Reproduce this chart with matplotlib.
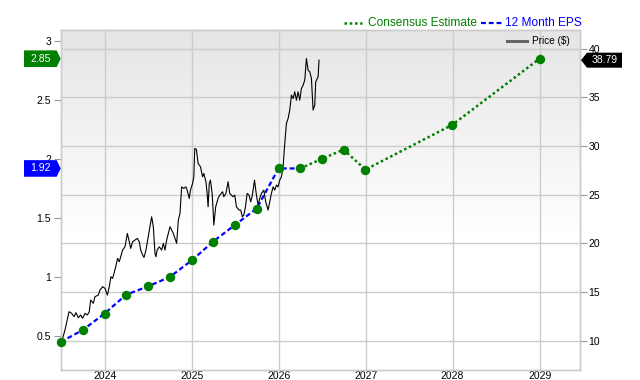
import numpy as np
import pandas as pd
import matplotlib
matplotlib.use("Agg")
import matplotlib.pyplot as plt
import matplotlib.dates as mdates
import matplotlib.transforms as mtransforms
from matplotlib.patches import Polygon
from matplotlib.lines import Line2D

plt.rcParams['font.family'] = ['Liberation Sans', 'DejaVu Sans']

# ---------------- data ----------------
eps_dates = ["2023-06-30", "2023-09-30", "2023-12-31", "2024-03-31", "2024-06-30",
             "2024-09-30", "2024-12-31", "2025-03-31", "2025-06-30", "2025-09-30",
             "2025-12-31", "2026-03-31"]
eps_values = [0.45, 0.55, 0.69, 0.85, 0.92, 1.00, 1.14, 1.30, 1.44, 1.58, 1.92, 1.92]

cons_dates = ["2026-03-31", "2026-06-30", "2026-09-30", "2026-12-31", "2027-12-31", "2028-12-31"]
cons_values = [1.92, 2.00, 2.08, 1.91, 2.29, 2.85]

price_start = "2023-06-30"
price_days = [4, 18, 35, 46, 56, 64, 74, 84, 92, 102, 112, 120, 126, 137, 144, 158, 165, 176,
              186, 196, 204, 211, 218, 224, 231, 239, 246, 252, 260, 270, 280, 288, 294, 302,
              312, 322, 330, 336, 344, 350, 358, 364, 372, 382, 389, 396, 400, 405, 414, 424,
              431, 438, 445, 452, 459, 466, 473, 480, 487, 494, 501, 508, 517, 526, 531, 540,
              545, 554, 559, 563, 570, 577, 587, 596, 601, 610, 615, 619, 624, 629, 636, 640,
              643, 651, 661, 668, 680, 685, 694, 703, 710, 717, 724, 731, 738, 749, 756, 763,
              769, 776, 783, 791, 798, 805, 814, 822, 829, 836, 843, 853, 861, 871, 878, 885,
              892, 899, 906, 913, 920, 927, 934, 941, 948, 955, 962, 969, 976, 983, 990, 997,
              1004, 1011, 1018, 1025, 1032, 1039, 1046, 1053, 1060, 1067, 1071, 1081, 1085]
price_values = [9.90, 11.10, 12.98, 12.81, 12.47, 12.88, 12.36, 12.64, 12.30, 12.81, 12.64,
                12.98, 14.18, 13.84, 14.52, 14.69, 15.21, 15.55, 15.38, 14.69, 15.55, 16.57,
                16.40, 16.92, 17.60, 18.46, 18.11, 18.63, 19.31, 19.65, 21.02, 20.17, 19.48,
                20.17, 20.34, 20.51, 20.17, 19.31, 18.80, 18.56, 19.31, 20.17, 21.37, 22.73,
                21.71, 18.97, 18.63, 19.31, 19.65, 19.31, 20.00, 19.31, 20.34, 21.02, 21.71,
                21.37, 21.02, 20.51, 20.00, 22.39, 23.08, 25.81, 25.64, 25.81, 25.47, 24.62,
                25.47, 26.16, 26.84, 29.75, 29.65, 28.21, 27.87, 26.84, 27.18, 26.33, 25.13,
                23.76, 26.16, 26.50, 25.13, 23.42, 21.88, 23.76, 24.62, 24.96, 25.30, 24.79,
                25.13, 26.33, 25.13, 24.96, 24.79, 24.96, 23.76, 23.42, 23.42, 22.73, 22.91,
                23.76, 25.13, 24.96, 24.27, 24.96, 26.50, 24.96, 23.93, 24.62, 25.13, 25.47,
                24.27, 23.42, 24.27, 25.13, 25.81, 25.47, 25.99, 25.81, 26.50, 26.84, 27.87,
                30.26, 32.32, 32.83, 33.69, 35.23, 34.88, 35.57, 34.71, 35.57, 34.71, 35.91,
                36.25, 36.77, 38.99, 37.79, 37.62, 36.94, 33.69, 34.20, 36.59, 37.11, 38.82]

year_ticks = ["2024", "2025", "2026", "2027", "2028", "2029"]
left_ticks = [0.5, 1, 1.5, 2, 2.5, 3]
left_tick_labels = ["0.5", "1", "1.5", "2", "2.5", "3"]
right_ticks = [10, 15, 20, 25, 30, 35, 40]

last_eps_label = "1.92"
last_cons_label = "2.85"
last_price_label = "38.79"

# ---------------- figure ----------------
GREEN = "#008000"
BLUE = "#0000ff"
GRID = "#cccccc"

fig = plt.figure(figsize=(6.4, 3.8), dpi=100)
ax2 = fig.add_axes([60.7 / 640, 10 / 380, 519.3 / 640, 340 / 380])   # price axis (right)
ax = ax2.twinx()                                                       # eps axis (left)
ax.yaxis.tick_left()
ax2.yaxis.tick_right()

x_left = pd.Timestamp("2023-06-30")
x_right = pd.Timestamp("2029-06-19")
L_LIM = (0.2119, 3.0932)
R_LIM = (6.99, 41.92)

# background gradient (on bottom axes)
grad = np.concatenate([np.linspace(0.895, 1.0, 62), np.ones(38)])[:, None]
ax2.imshow(grad, cmap="gray", vmin=0, vmax=1, aspect="auto",
           extent=[mdates.date2num(x_left), mdates.date2num(x_right), R_LIM[0], R_LIM[1]],
           origin="upper", zorder=0, interpolation="bilinear")

ax2.set_xlim(x_left, x_right)
ax.set_xlim(x_left, x_right)
ax.set_ylim(*L_LIM)
ax2.set_ylim(*R_LIM)

# grid: verticals on years, horizontals on right-axis ticks
for y in year_ticks:
    ax2.axvline(pd.Timestamp(y + "-01-01"), color=GRID, lw=1, zorder=1)
for v in right_ticks:
    ax2.axhline(v, color=GRID, lw=1, zorder=1)

ax2.set_xticks([pd.Timestamp(y + "-01-01") for y in year_ticks])
ax2.set_xticklabels(year_ticks)
ax.set_yticks(left_ticks)
ax.set_yticklabels(left_tick_labels)
ax2.set_yticks(right_ticks)
ax2.set_yticklabels([str(v) for v in right_ticks])

ax2.tick_params(axis="x", length=0, pad=0.8, labelsize=7.5, colors="black")
ax.tick_params(axis="y", length=5, width=0.8, color="#999999", pad=2, labelsize=7.5)
ax2.tick_params(axis="y", length=5, width=0.8, color="#999999", pad=1, labelsize=7.5)

for a in (ax, ax2):
    for s in a.spines.values():
        s.set_color(GRID)
        s.set_linewidth(1)

ax.patch.set_visible(False)

# price
pdates = pd.Timestamp(price_start) + pd.to_timedelta(price_days, unit="D")
ax2.plot(pdates, price_values, color="black", lw=0.8, zorder=3)

# eps and consensus
ed = pd.to_datetime(eps_dates)
cd = pd.to_datetime(cons_dates)
ax.plot(ed, eps_values, color=BLUE, lw=1.6, linestyle=(0, (2.2, 1.3)), zorder=4, clip_on=False)
ax.plot(cd, cons_values, color=GREEN, lw=1.8, linestyle=(0, (1, 1.1)), zorder=4)
all_d = list(ed) + list(cd[1:])
all_v = list(eps_values) + list(cons_values[1:])
ax.scatter(all_d, all_v, s=46, color=GREEN, zorder=5, clip_on=False, linewidths=0)

# tags
trL = mtransforms.blended_transform_factory(ax.transAxes, ax.transData)
w = 1 / 519.3  # one pixel in axes fraction
hpx = 8.3 / 118.0

def left_tag(val, label, color):
    poly = Polygon([(-36.7 * w, val - hpx), (-4 * w, val - hpx), (0, val),
                    (-4 * w, val + hpx), (-36.7 * w, val + hpx)],
                   closed=True, transform=trL, facecolor=color, edgecolor="none",
                   clip_on=False, zorder=10)
    ax.add_patch(poly)
    ax.text(-20.5 * w, val, label, transform=trL, color="white", fontsize=7.5,
            ha="center", va="center", clip_on=False, zorder=11)

left_tag(cons_values[-1], last_cons_label, GREEN)
left_tag(eps_values[-1], last_eps_label, BLUE)

trR = mtransforms.blended_transform_factory(ax.transAxes, ax2.transData)
hpr = 7.5 / 9.733
pv = price_values[-1]
poly = Polygon([(1 + 1 * w, pv), (1 + 7 * w, pv - hpr), (1 + 42 * w, pv - hpr),
                (1 + 42 * w, pv + hpr), (1 + 7 * w, pv + hpr)], closed=True,
               transform=trR, facecolor="black", edgecolor="none", clip_on=False, zorder=10)
ax.add_patch(poly)
ax.text(1 + 24.5 * w, pv, last_price_label, transform=trR, color="white", fontsize=7.5,
        ha="center", va="center", clip_on=False, zorder=11)

# top legend
def fx(px):
    return px / 640

def fy(py):
    return 1 - py / 380

fig.add_artist(Line2D([fx(344), fx(362)], [fy(22.5), fy(22.5)], color=GREEN, lw=1.8,
                      linestyle=(0, (1, 1.1))))
fig.text(fx(367.5), fy(22.5), "Consensus Estimate", color=GREEN, fontsize=8.6,
         ha="left", va="center")
fig.add_artist(Line2D([fx(481), fx(502)], [fy(22.5), fy(22.5)], color=BLUE, lw=1.6,
                      linestyle=(0, (2.2, 1.3))))
fig.text(fx(505), fy(22.5), "12 Month EPS", color=BLUE, fontsize=8.6, ha="left", va="center")

# price legend
fig.add_artist(Line2D([fx(507), fx(527)], [fy(41.3), fy(41.3)], color="#666666", lw=2.2))
fig.text(fx(532), fy(41.5), "Price ($)", color="black", fontsize=7.2, ha="left", va="center")

fig.savefig("out.png", dpi=100)
